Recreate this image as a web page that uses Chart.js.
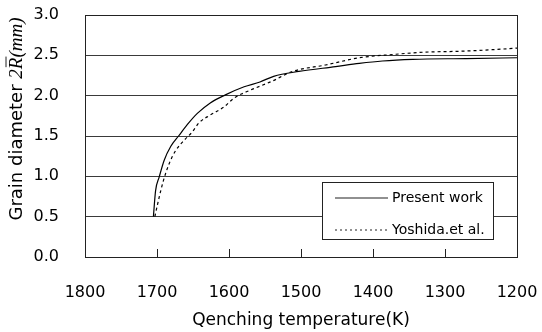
<!DOCTYPE html>
<html>
<head>
<meta charset="utf-8">
<script src="https://cdn.jsdelivr.net/npm/chart.js@4"></script>
<style>
  body { margin: 0; background: #fff; }
  #wrap { width: 542px; height: 332px; }
</style>
</head>
<body>
<div id="wrap"><canvas id="myChart" width="542" height="332"></canvas></div>
<script>
// Present work (solid line)
const tempPresent = [1705, 1702, 1697, 1690, 1681, 1670, 1658, 1644, 1626, 1605, 1579, 1557, 1538, 1503, 1452, 1419, 1387, 1345, 1271, 1200];
const diamPresent = [0.50, 0.82, 0.99, 1.20, 1.37, 1.50, 1.64, 1.78, 1.91, 2.01, 2.11, 2.17, 2.24, 2.30, 2.36, 2.40, 2.43, 2.45, 2.46, 2.47];

// Yoshida et al. (dashed line)
const tempYoshida = [1703, 1697, 1691, 1683, 1674, 1662, 1651, 1642, 1626, 1607, 1593, 1570, 1540, 1512, 1466, 1419, 1373, 1327, 1281, 1234, 1200];
const diamYoshida = [0.50, 0.74, 0.95, 1.16, 1.32, 1.45, 1.55, 1.66, 1.76, 1.86, 1.97, 2.07, 2.18, 2.30, 2.38, 2.47, 2.51, 2.54, 2.55, 2.57, 2.59];

const xTicks = [1800, 1700, 1600, 1500, 1400, 1300, 1200];
const seriesNames = ["Present work", "Yoshida.et al."];

const FONT = "'DejaVu Sans', sans-serif";

function toPoints(xs, ys) {
  return xs.map((x, i) => ({ x: x, y: ys[i] }));
}

// frame, inner tick marks, legend box and y title
const framePlugin = {
  id: "framePlugin",
  afterDraw: (chart) => {
    const { ctx, chartArea } = chart;
    const xs = chart.scales.x;
    ctx.save();
    ctx.strokeStyle = "#222";
    ctx.lineWidth = 1;
    ctx.strokeRect(chartArea.left + 0.5, chartArea.top + 0.5,
      chartArea.right - chartArea.left, chartArea.bottom - chartArea.top);

    // small ticks pointing into the plot
    xTicks.forEach((t) => {
      if (t === 1800 || t === 1200) return;
      const px = Math.round(xs.getPixelForValue(t)) + 0.5;
      ctx.beginPath();
      ctx.moveTo(px, chartArea.bottom);
      ctx.lineTo(px, chartArea.bottom - 8);
      ctx.stroke();
    });

    // legend
    const bx = chartArea.right - 195, by = chartArea.bottom - 75;
    const bw = 171, bh = 57;
    ctx.fillStyle = "#fff";
    ctx.fillRect(bx, by, bw, bh);
    ctx.strokeRect(bx + 0.5, by + 0.5, bw, bh);
    ctx.font = "14px " + FONT;
    ctx.fillStyle = "#000";
    ctx.textBaseline = "middle";
    const rows = [by + 16, by + 48];
    rows.forEach((ry, i) => {
      ctx.beginPath();
      ctx.setLineDash(i === 0 ? [] : [2, 3]);
      ctx.lineWidth = 1.2;
      ctx.moveTo(bx + 13, ry);
      ctx.lineTo(bx + 66, ry);
      ctx.stroke();
      ctx.setLineDash([]);
      ctx.fillText(seriesNames[i], bx + 70, ry);
    });

    // y axis title: Grain diameter 2R̄(mm)
    const cy = (chartArea.top + chartArea.bottom) / 2 - 17;
    ctx.translate(17, cy);
    ctx.rotate(-Math.PI / 2);
    const part1 = "Grain diameter ";
    const fontA = "18px " + FONT;
    const fontB = "italic 19px 'Liberation Serif', 'Times New Roman', serif";
    ctx.font = fontA;
    const w1 = ctx.measureText(part1).width;
    ctx.font = fontB;
    const w2 = ctx.measureText("2R(mm)").width;
    let x0 = -(w1 + w2) / 2;
    ctx.font = fontA;
    ctx.fillText(part1, x0, 0);
    x0 += w1;
    ctx.font = fontB;
    const w2a = ctx.measureText("2").width;
    const wR = ctx.measureText("R").width;
    ctx.fillText("2R(mm)", x0, 0);
    ctx.beginPath();
    ctx.lineWidth = 1;
    ctx.moveTo(x0 + w2a + 2, -11);
    ctx.lineTo(x0 + w2a + wR + 1, -11);
    ctx.stroke();
    ctx.restore();
  },
};

const ctx = document.getElementById("myChart");

new Chart(ctx, {
  type: "line",
  data: {
    datasets: [
      {
        label: seriesNames[0],
        data: toPoints(tempPresent, diamPresent),
        borderColor: "#000",
        borderWidth: 1.2,
        pointRadius: 0,
        cubicInterpolationMode: "monotone",
      },
      {
        label: seriesNames[1],
        data: toPoints(tempYoshida, diamYoshida),
        borderColor: "#000",
        borderWidth: 1.2,
        borderDash: [3, 3],
        pointRadius: 0,
        cubicInterpolationMode: "monotone",
      },
    ],
  },
  options: {
    responsive: false,
    animation: false,
    layout: { padding: { left: 0, top: 15, right: 25, bottom: 1 } },
    plugins: { legend: { display: false }, tooltip: { enabled: false } },
    scales: {
      x: {
        type: "linear",
        reverse: true,
        min: 1200,
        max: 1800,
        afterBuildTicks: (s) => { s.ticks = xTicks.map((v) => ({ value: v })); },
        afterFit: (s) => {
          s.height = 74;
          s.paddingLeft = 0;
          s.paddingRight = 0;
        },
        grid: { display: false, drawTicks: false },
        border: { display: false },
        ticks: {
          color: "#000",
          font: { family: FONT, size: 16 },
          padding: 26,
          callback: (v) => String(v),
        },
        title: {
          display: true,
          text: "Qenching temperature(K)",
          color: "#000",
          font: { family: FONT, size: 17 },
          padding: { top: 0, bottom: 0 },
        },
      },
      y: {
        min: 0,
        max: 3,
        afterFit: (s) => {
          s.width = 85;
          s.paddingTop = 0;
          s.paddingBottom = 0;
        },
        grid: { color: "#3a3a3a", lineWidth: 1, drawTicks: false },
        border: { display: false },
        ticks: {
          stepSize: 0.5,
          color: "#000",
          font: { family: FONT, size: 16 },
          padding: 26,
          callback: (v) => v.toFixed(1),
        },
      },
    },
  },
  plugins: [framePlugin],
});
</script>
</body>
</html>
